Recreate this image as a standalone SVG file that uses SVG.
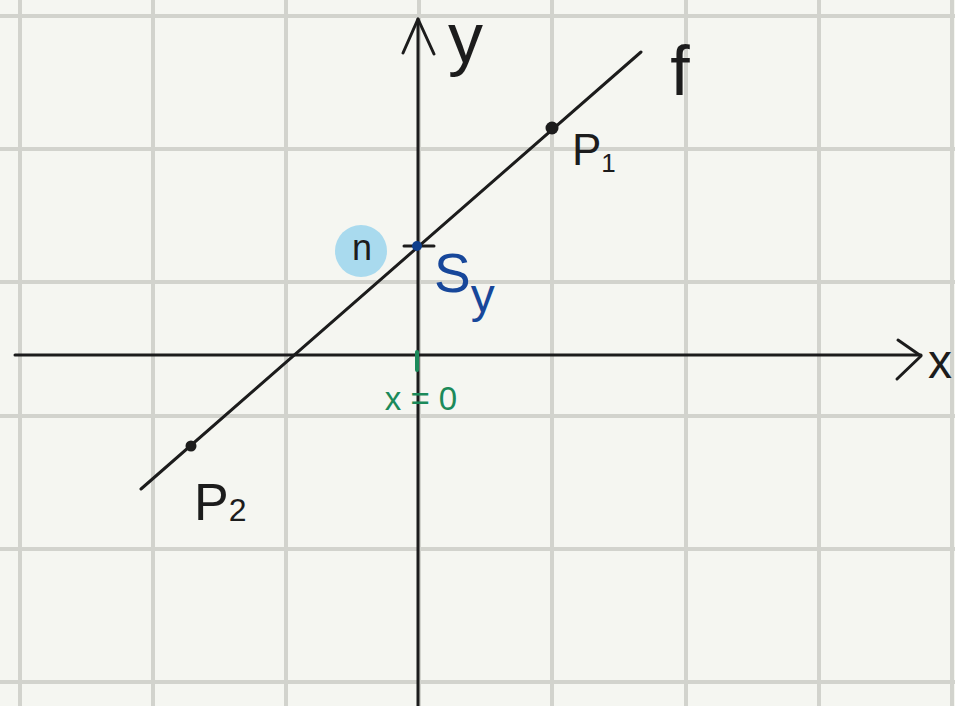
<svg xmlns="http://www.w3.org/2000/svg" width="955" height="706" viewBox="0 0 955 706">
  <style>
    .grid line { stroke: #d2d3cd; stroke-width: 4; }
    .ink { stroke: #1c1c1c; stroke-width: 3; fill: none; stroke-linecap: round; stroke-linejoin: round; }
    .lbl { font-family: "Liberation Sans", "DejaVu Sans", sans-serif; fill: #1c1c1c; }
    .blue { fill: #17479a; }
    .green { fill: #1b8a5a; }
  </style>
  <rect width="955" height="706" fill="#f5f6f1"/>
  <g class="grid" id="grid">
    <line x1="20" y1="0" x2="20" y2="706"/>
    <line x1="153" y1="0" x2="153" y2="706"/>
    <line x1="286" y1="0" x2="286" y2="706"/>
    <line x1="419" y1="0" x2="419" y2="706"/>
    <line x1="552" y1="0" x2="552" y2="706"/>
    <line x1="686" y1="0" x2="686" y2="706"/>
    <line x1="819" y1="0" x2="819" y2="706"/>
    <line x1="952" y1="0" x2="952" y2="706"/>
    <line x1="0" y1="16" x2="955" y2="16"/>
    <line x1="0" y1="149" x2="955" y2="149"/>
    <line x1="0" y1="282" x2="955" y2="282"/>
    <line x1="0" y1="416" x2="955" y2="416"/>
    <line x1="0" y1="549" x2="955" y2="549"/>
    <line x1="0" y1="682" x2="955" y2="682"/>
  </g>
  <g id="connectors">
    <g id="y-axis">
      <line class="ink" x1="418" y1="706" x2="418" y2="19"/>
      <polyline class="ink" points="403,53 418,19 434,54"/>
    </g>
    <g id="x-axis">
      <line class="ink" x1="15" y1="355" x2="921" y2="355"/>
      <polyline class="ink" points="898,340 921,356 897,379"/>
    </g>
    <g id="line-f">
      <line class="ink" x1="141" y1="489" x2="641" y2="52"/>
    </g>
  </g>
  <g id="label-y"><text class="lbl" x="448" y="62" font-size="70">y</text></g>
  <g id="label-x"><text class="lbl" x="928" y="378" font-size="48">x</text></g>
  <g id="label-f"><text class="lbl" x="680" y="95" font-size="70" text-anchor="middle">f</text></g>
  <g id="P1">
    <circle cx="552" cy="128" r="6.5" fill="#1c1c1c"/>
    <text class="lbl" x="572" y="165" font-size="44">P<tspan font-size="26" dy="7">1</tspan></text>
  </g>
  <g id="P2">
    <circle cx="191" cy="446" r="5.5" fill="#1c1c1c"/>
    <text class="lbl" x="194" y="520" font-size="52">P<tspan font-size="32" dy="1">2</tspan></text>
  </g>
  <g id="n">
    <circle cx="361" cy="251" r="26" fill="#a9daee"/>
    <text class="lbl" x="362" y="260" font-size="36" text-anchor="middle">n</text>
  </g>
  <g id="Sy">
    <line class="ink" x1="404" y1="246" x2="434" y2="246"/>
    <circle cx="417" cy="246" r="5" fill="#0e3f8c"/>
    <text class="lbl blue" x="434" y="292" font-size="55">S<tspan font-size="48" dy="20">y</tspan></text>
  </g>
  <g id="x0">
    <line x1="417" y1="352" x2="417" y2="370" stroke="#1b8a5a" stroke-width="4" stroke-linecap="round"/>
    <text class="lbl green" x="421" y="410" font-size="33" text-anchor="middle">x = 0</text>
  </g>
</svg>
